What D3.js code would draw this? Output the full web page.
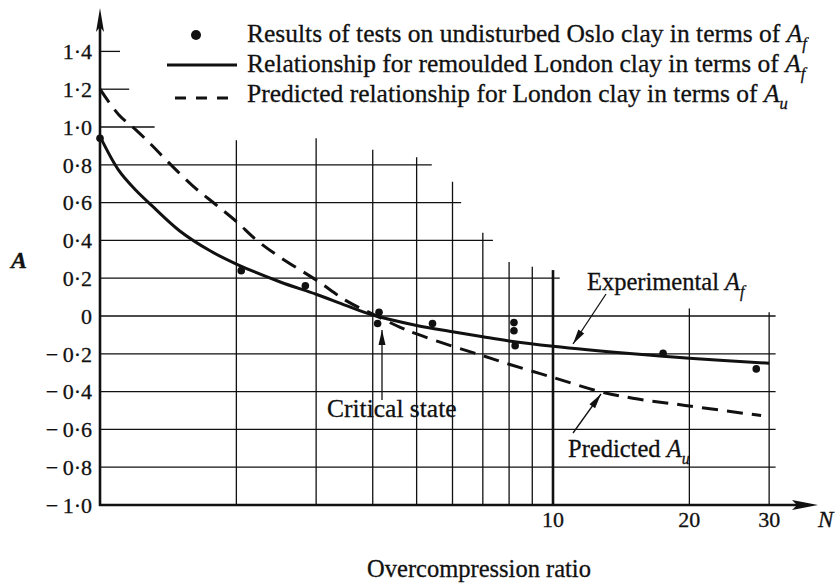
<!DOCTYPE html>
<html>
<head>
<meta charset="utf-8">
<script src="https://cdn.jsdelivr.net/npm/d3@7"></script>
<style>
  html, body { margin: 0; padding: 0; background: #fff; }
  svg { display: block; }
  text { font-family: "Liberation Serif", "Times New Roman", serif; fill: #111; stroke: #111; stroke-width: 0.3px; }
</style>
</head>
<body>
<svg id="chart" width="835" height="584"></svg>
<script>
// Pore-pressure parameter A against overcompression ratio N (log scale)

// Results of tests on undisturbed Oslo clay (A_f)
const osloN = [1, 2.05, 2.84, 4.13, 4.1, 5.42, 8.2, 8.2, 8.25, 17.5, 28.1];
const osloA = [0.94, 0.24, 0.16, 0.02, -0.04, -0.04, -0.035, -0.078, -0.157, -0.197, -0.28];

// Relationship for remoulded London clay (A_f)
const remouldedN = [1, 1.1, 1.2, 1.3, 1.5, 1.75, 2, 2.5, 3, 3.5, 4, 5, 6, 7, 8, 10, 15, 20, 30];
const remouldedA = [0.95, 0.77, 0.665, 0.585, 0.45, 0.345, 0.275, 0.18, 0.115, 0.055, 0.005, -0.05, -0.083, -0.11, -0.132, -0.16, -0.2, -0.224, -0.25];

// Predicted relationship for London clay (A_u)
const predictedN = [1, 1.1, 1.2, 1.3, 1.4, 1.6, 1.8, 2, 2.22, 2.5, 3, 3.5, 4, 4.6, 5, 6, 7, 8, 10, 12.7, 15, 20, 28.8];
const predictedA = [1.2, 1.065, 0.985, 0.905, 0.825, 0.69, 0.59, 0.5, 0.40, 0.31, 0.19, 0.08, 0.01, -0.06, -0.095, -0.16, -0.21, -0.255, -0.325, -0.40, -0.435, -0.476, -0.527];

// Axis ticks
const yTicks = [-1.0, -0.8, -0.6, -0.4, -0.2, 0, 0.2, 0.4, 0.6, 0.8, 1.0, 1.2, 1.4];
const xLabelTicks = [10, 20, 30];

// Stepped grid: how far each horizontal line runs (in N) and how high each vertical line rises (in A)
const hGridA   = [-0.8, -0.6, -0.4, -0.2, 0, 0.2, 0.4, 0.6, 0.8, 1.0, 1.2, 1.4];
const hGridEnd = [31, 31, 31, 31, 31, 10.35, 7.37, 6.27, 5.4, 1.32, 1.16, 1.107];
const vGridN   = [2, 3, 4, 5, 6, 7, 8, 9, 10, 20, 30];
const vGridTop = [0.93, 0.94, 0.88, 0.84, 0.71, 0.44, 0.286, 0.26, 0.243, 0.04, 0.02];

const svg = d3.select("#chart");
const x = d3.scaleLog().domain([1, 10]).range([100, 553]);
const y = d3.scaleLinear().domain([-1, 1.4]).range([505, 51.4]);

const ink = "#111";

// grid
const grid = svg.append("g").attr("stroke", ink).attr("stroke-width", 1.3);
grid.selectAll("line.h").data(hGridA.map((a, i) => [a, hGridEnd[i]])).join("line")
  .attr("x1", x(1)).attr("x2", d => x(d[1]))
  .attr("y1", d => y(d[0])).attr("y2", d => y(d[0]));
grid.selectAll("line.v").data(vGridN.map((n, i) => [n, vGridTop[i]])).join("line")
  .attr("x1", d => x(d[0])).attr("x2", d => x(d[0]))
  .attr("y1", y(-1)).attr("y2", d => y(d[1]))
  .attr("stroke-width", d => d[0] === 10 ? 2.6 : 1.3);

// axes with arrowheads
const axes = svg.append("g");
axes.append("line").attr("x1", x(1)).attr("x2", x(1)).attr("y1", y(-1) + 1).attr("y2", 20)
  .attr("stroke", ink).attr("stroke-width", 2.6);
axes.append("path").attr("d", `M${x(1)},8 L${x(1) - 4},32 L${x(1)},27 L${x(1) + 4},32 Z`).attr("fill", ink);
axes.append("line").attr("x1", x(1) - 1).attr("x2", 806).attr("y1", y(-1)).attr("y2", y(-1))
  .attr("stroke", ink).attr("stroke-width", 2.6);
axes.append("path").attr("d", `M818,${y(-1)} L792,${y(-1) - 5} L797,${y(-1)} L792,${y(-1) + 5} Z`).attr("fill", ink);

// y tick labels (minus sign set a little apart, middle dot as decimal point)
const fmt = v => v === 0 ? "0" : (v < 0 ? "\u2212\u2009" : "") + Math.abs(v).toFixed(1).replace(".", "\u00B7");
svg.append("g").selectAll("text").data(yTicks).join("text")
  .attr("x", 92).attr("y", d => y(d)).attr("dy", "0.35em")
  .attr("text-anchor", "end").attr("font-size", 22)
  .text(fmt);

// x tick labels
svg.append("g").selectAll("text").data(xLabelTicks).join("text")
  .attr("x", d => x(d)).attr("y", 527)
  .attr("text-anchor", "middle").attr("font-size", 22)
  .text(d => d);
svg.append("text").attr("x", 818).attr("y", 527).attr("font-size", 23)
  .attr("font-style", "italic").text("N");

// axis titles
svg.append("text").attr("x", 479).attr("y", 577).attr("text-anchor", "middle")
  .attr("font-size", 24.5).text("Overcompression ratio");
svg.append("text").attr("x", 11).attr("y", 268).attr("font-size", 24)
  .attr("font-style", "italic").attr("font-weight", "bold").text("A");

// curves
const line = d3.line().x(d => x(d[0])).y(d => y(d[1])).curve(d3.curveCatmullRom.alpha(0.5));
svg.append("path").datum(remouldedN.map((n, i) => [n, remouldedA[i]]))
  .attr("d", line).attr("fill", "none").attr("stroke", ink).attr("stroke-width", 3);
svg.append("path").datum(predictedN.map((n, i) => [n, predictedA[i]]))
  .attr("d", line).attr("fill", "none").attr("stroke", ink).attr("stroke-width", 3)
  .attr("stroke-dasharray", "16 9");

// test results
svg.append("g").selectAll("circle").data(osloN.map((n, i) => [n, osloA[i]])).join("circle")
  .attr("cx", d => x(d[0])).attr("cy", d => y(d[1])).attr("r", 3.8).attr("fill", ink);

// annotations
function arrow(x1, y1, x2, y2) {
  svg.append("line").attr("x1", x1).attr("y1", y1).attr("x2", x2).attr("y2", y2)
    .attr("stroke", ink).attr("stroke-width", 1.3);
  const ang = Math.atan2(y2 - y1, x2 - x1), L = 15, W = 3.5;
  const bx = x2 - L * Math.cos(ang), by = y2 - L * Math.sin(ang);
  const px = -Math.sin(ang) * W, py = Math.cos(ang) * W;
  svg.append("path").attr("fill", ink)
    .attr("d", `M${x2},${y2} L${bx + px},${by + py} L${bx - px},${by - py} Z`);
}
function labelWithSub(xp, yp, main, sym, sub, size) {
  const t = svg.append("text").attr("x", xp).attr("y", yp).attr("font-size", size);
  t.append("tspan").text(main);
  t.append("tspan").attr("font-style", "italic").text(sym);
  t.append("tspan").attr("font-style", "italic").attr("font-size", size * 0.65).attr("dy", size * 0.28).text(sub);
  return t;
}

labelWithSub(587, 290, "Experimental ", "A", "f", 24.5);
arrow(606, 294, 573, 344);

labelWithSub(568, 457, "Predicted ", "A", "u", 24.5);
arrow(573, 433, 601, 394);

svg.append("text").attr("x", 327).attr("y", 417).attr("font-size", 25.5).text("Critical state");
arrow(382, 400, 382, 330);

// legend
const lg = svg.append("g");
lg.append("circle").attr("cx", 196).attr("cy", 35).attr("r", 5).attr("fill", ink);
lg.append("line").attr("x1", 167).attr("x2", 237).attr("y1", 65).attr("y2", 65)
  .attr("stroke", ink).attr("stroke-width", 3);
lg.append("line").attr("x1", 175).attr("x2", 237).attr("y1", 98).attr("y2", 98)
  .attr("stroke", ink).attr("stroke-width", 3).attr("stroke-dasharray", "11 10");
labelWithSub(247, 42, "Results of tests on undisturbed Oslo clay in terms of ", "A", "f", 25.5);
labelWithSub(247, 72, "Relationship for remoulded London clay in terms of ", "A", "f", 25.5);
labelWithSub(247, 102, "Predicted relationship for London clay in terms of ", "A", "u", 25.5);
</script>
</body>
</html>
